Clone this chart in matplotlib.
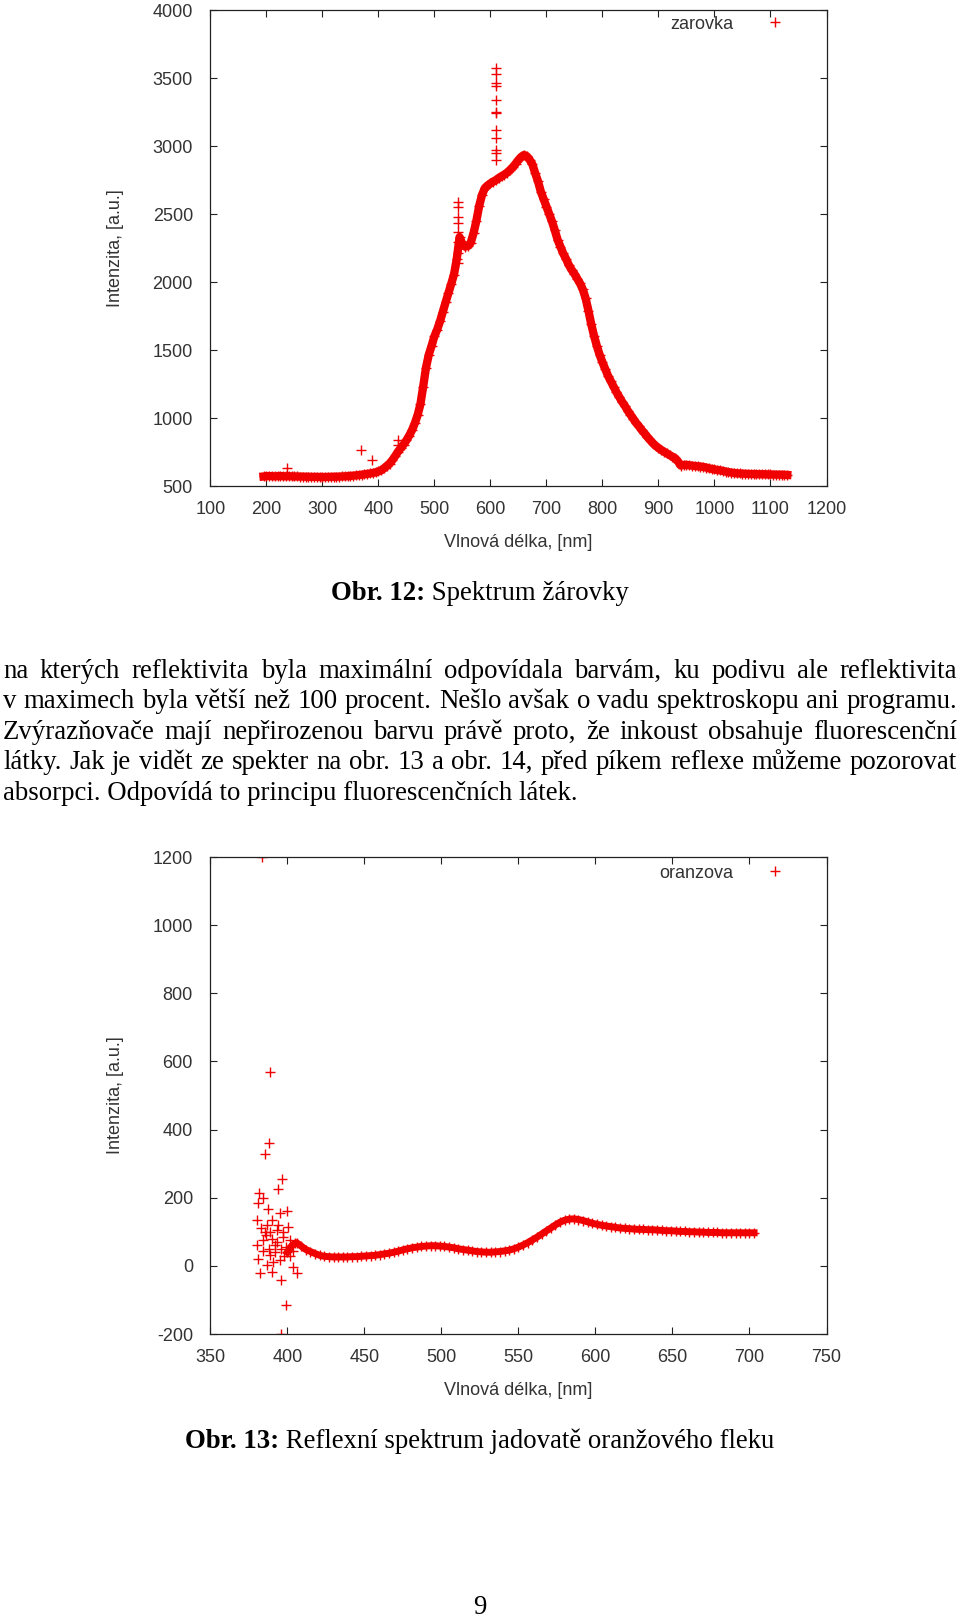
import numpy as np
import matplotlib
matplotlib.use("Agg")
import matplotlib.pyplot as plt

SANS = "Liberation Sans"
SERIF = "Liberation Serif"
RED = "#f00000"
GREY = "#333333"
W, H = 960, 1619

# Obr. 12 - spektrum zarovky, every 5 nm (195..1130)
bulb_start, bulb_step = 195, 5
bulb_values = [
    570, 572, 573, 572, 571, 572, 573, 572, 571, 572,
    571, 570, 570, 569, 569, 568, 568, 567, 567, 567,
    566, 566, 566, 567, 567, 568, 568, 569, 570, 571,
    572, 574, 576, 578, 580, 583, 586, 589, 592, 596,
    600, 607, 615, 630, 648, 665, 690, 720, 752, 780,
    805, 835, 870, 910, 960, 1020, 1100, 1230, 1370, 1465,
    1530, 1600, 1650, 1710, 1780, 1850, 1917, 1985, 2055, 2170,
    2330, 2280, 2260, 2265, 2290, 2360, 2450, 2560, 2640, 2690,
    2710, 2725, 2738, 2750, 2765, 2778, 2790, 2805, 2824, 2845,
    2870, 2897, 2920, 2934, 2925, 2900, 2865, 2800, 2740, 2665,
    2610, 2555, 2500, 2445, 2380, 2310, 2260, 2210, 2170, 2125,
    2090, 2060, 2025, 1990, 1945, 1880, 1790, 1690, 1605, 1530,
    1465, 1410, 1360, 1310, 1270, 1230, 1190, 1155, 1120, 1090,
    1055, 1025, 995, 965, 940, 912, 888, 862, 838, 815,
    795, 780, 765, 752, 740, 727, 715, 704, 680, 650,
    655, 655, 652, 650, 647, 645, 643, 640, 636, 630,
    626, 622, 618, 615, 611, 606, 602, 599, 596, 593,
    592, 591, 590, 589, 588, 588, 587, 587, 586, 586,
    585, 585, 584, 584, 583, 583, 582, 581,
]
# isolated points (lines at 543 and 610 nm, a few strays)
bulb_extra_x = [543] * 8 + [610] * 12 + [237, 369, 388, 435, 435]
bulb_extra_y = [2590, 2554, 2480, 2432, 2370, 2296, 2211, 2138,
                3571, 3529, 3461, 3441, 3338, 3252, 3240, 3118, 3057, 2971, 2946, 2897,
                630, 765, 691, 838, 801]

# Obr. 13 - reflexni spektrum oranzoveho fleku, every 3 nm (400..703)
orange_start, orange_step = 400, 3
orange_values = [
    40, 60, 68, 58, 48, 42, 36, 31, 28, 27,
    26, 26, 26, 26, 27, 27, 28, 29, 30, 31,
    33, 35, 37, 40, 43, 47, 50, 53, 55, 57,
    58, 59, 59, 58, 57, 55, 53, 50, 48, 46,
    44, 42, 41, 40, 40, 41, 42, 44, 46, 50,
    55, 61, 68, 76, 84, 93, 102, 111, 120, 128,
    134, 137, 138, 136, 133, 129, 125, 122, 119, 117,
    115, 113, 111, 110, 109, 108, 107, 107, 106, 106,
    105, 104, 103, 103, 102, 101, 101, 100, 100, 99,
    99, 98, 98, 98, 97, 97, 97, 97, 97, 97,
    97, 97,
]
# noisy start of the measurement (380..406 nm)
orange_noise_x = [383.4, 388.8, 388.0, 385.5, 396.8, 394.2, 381.8, 384.4, 381.2, 387.7,
                  400.0, 380.0, 389.9, 395.3, 385.5, 397.4, 380.5, 392.0, 401.8, 381.2,
                  388.8, 395.3, 382.3, 386.6, 390.3, 403.9, 406.1, 395.7, 399.0, 396.0,
                  384.4, 393.1, 405.0, 400.7, 383.0, 386.0, 388.0, 390.0, 392.0, 394.0,
                  396.0, 398.0, 391.0, 387.0, 384.0, 393.0, 397.0, 399.0, 402.0, 404.0,
                  389.0]
orange_noise_y = [1200, 569, 361, 329, 255, 227, 214, 198, 185, 168,
                  161, 134, 134, 154, 100, 85, 61, 61, 75, 21,
                  31, 17, -22, 2, -18, -3, -22, -42, -116, -199,
                  75, 105, 66, 114, 110, 90, 50, 80, 40, 120,
                  50, 30, 10, 120, 45, 70, 100, 55, 30, 45,
                  100]

top_xticks = list(range(100, 1201, 100))
top_yticks = list(range(500, 4001, 500))
bottom_xticks = list(range(350, 751, 50))
bottom_yticks = list(range(-200, 1201, 200))

caption1 = ("Obr. 12:", " Spektrum žárovky")
caption2 = ("Obr. 13:", " Reflexní spektrum jadovatě oranžového fleku")
paragraph = [
    "na kterých reflektivita byla maximální odpovídala barvám, ku podivu ale reflektivita",
    "v maximech byla větší než 100 procent. Nešlo avšak o vadu spektroskopu ani programu.",
    "Zvýrazňovače mají nepřirozenou barvu právě proto, že inkoust obsahuje fluorescenční",
    "látky. Jak je vidět ze spekter na obr. 13 a obr. 14, před píkem reflexe můžeme pozorovat",
    "absorpci. Odpovídá to principu fluorescenčních látek.",
]
page_number = "9"

plt.rcParams["font.family"] = [SANS, "DejaVu Sans"]
plt.rcParams["axes.unicode_minus"] = False

fig = plt.figure(figsize=(W / 100, H / 100), dpi=100)
fig.patch.set_facecolor("white")
renderer = fig.canvas.get_renderer()


def px_axes(left, top, right, bottom):
    return [left / W, 1 - bottom / H, (right - left) / W, (bottom - top) / H]


def style_axes(ax, xlim, ylim, xticks, yticks):
    ax.set_xlim(*xlim)
    ax.set_ylim(*ylim)
    ax.set_xticks(xticks)
    ax.set_yticks(yticks)
    ax.tick_params(direction="in", top=True, right=True, length=5, width=0.8,
                   color="#222222", labelcolor=GREY, labelsize=13)
    ax.tick_params(axis="x", pad=10.5)
    ax.tick_params(axis="y", pad=12.5)
    for sp in ax.spines.values():
        sp.set_linewidth(0.9)
        sp.set_color("#222222")
    ax.set_xlabel("Vlnová délka, [nm]", fontsize=13, color=GREY)
    ax.set_ylabel("Intenzita, [a.u.]", fontsize=13, color=GREY)
    ax.xaxis.set_label_coords(0.5, -0.1015)
    ax.yaxis.set_label_coords(-0.14, 0.5)


def add_legend(ax, y_anchor):
    ax.legend(loc="upper right", bbox_to_anchor=(0.931, y_anchor), frameon=False,
              markerfirst=False, numpoints=1, handlelength=1.0, handletextpad=1.8,
              borderaxespad=0, borderpad=0, fontsize=13, labelcolor=GREY)


def spectrum(ax, x, y, label, band):
    # dense measurement: solid band under the point markers
    ax.plot(x, y, "-", color=RED, lw=band, solid_joinstyle="round")
    ax.plot(x, y, "+", color=RED, ms=7.5, mew=1.0, label=label)


# top chart
ax1 = fig.add_axes(px_axes(210.3, 10, 826.5, 486))
bulb_x = np.arange(len(bulb_values)) * bulb_step + bulb_start
spectrum(ax1, bulb_x, bulb_values, "zarovka", 6.0)
ax1.plot(bulb_extra_x, bulb_extra_y, "+", color=RED, ms=7.5, mew=1.0)
style_axes(ax1, (100, 1200), (500, 4000), top_xticks, top_yticks)
add_legend(ax1, 0.988)

# bottom chart
ax2 = fig.add_axes(px_axes(210.3, 857, 826.5, 1334))
orange_x = np.arange(len(orange_values)) * orange_step + orange_start
spectrum(ax2, orange_x, orange_values, "oranzova", 5.0)
ax2.plot(orange_noise_x, orange_noise_y, "+", color=RED, ms=7.5, mew=1.0)
style_axes(ax2, (350, 750), (-200, 1200), bottom_xticks, bottom_yticks)
add_legend(ax2, 0.984)


# page text
def measure(s, size, weight="normal"):
    t = fig.text(0, 0, s, fontsize=size, family=SERIF, fontweight=weight)
    w = t.get_window_extent(renderer).width
    t.remove()
    return w


body_size = 10 * 575 / measure(paragraph[-1], 10)


def put(x_px, y_px, s, weight="normal"):
    fig.text(x_px / W, 1 - y_px / H, s, fontsize=body_size, family=SERIF,
             fontweight=weight, va="baseline", ha="left", color="black")


def caption(parts, y_px):
    bold, rest = parts
    wb = measure(bold, body_size, "bold")
    wr = measure(rest, body_size)
    x0 = 480 - (wb + wr) / 2
    put(x0, y_px, bold, "bold")
    put(x0 + wb, y_px, rest)


caption(caption1, 600)
caption(caption2, 1448)

x_left, x_right = 3, 957
baselines = [678, 708, 739, 769, 800]
for i, (line, yb) in enumerate(zip(paragraph, baselines)):
    if i == len(paragraph) - 1:
        put(x_left, yb, line)
        continue
    words = line.split(" ")
    widths = [measure(w, body_size) for w in words]
    gap = (x_right - x_left - sum(widths)) / (len(words) - 1)
    x = x_left
    for w, wd in zip(words, widths):
        put(x, yb, w)
        x += wd + gap

fig.text(480 / W, 1 - 1607 / H, page_number, fontsize=body_size, family=SERIF,
         ha="center", va="center")

fig.savefig("out.png", dpi=100)
